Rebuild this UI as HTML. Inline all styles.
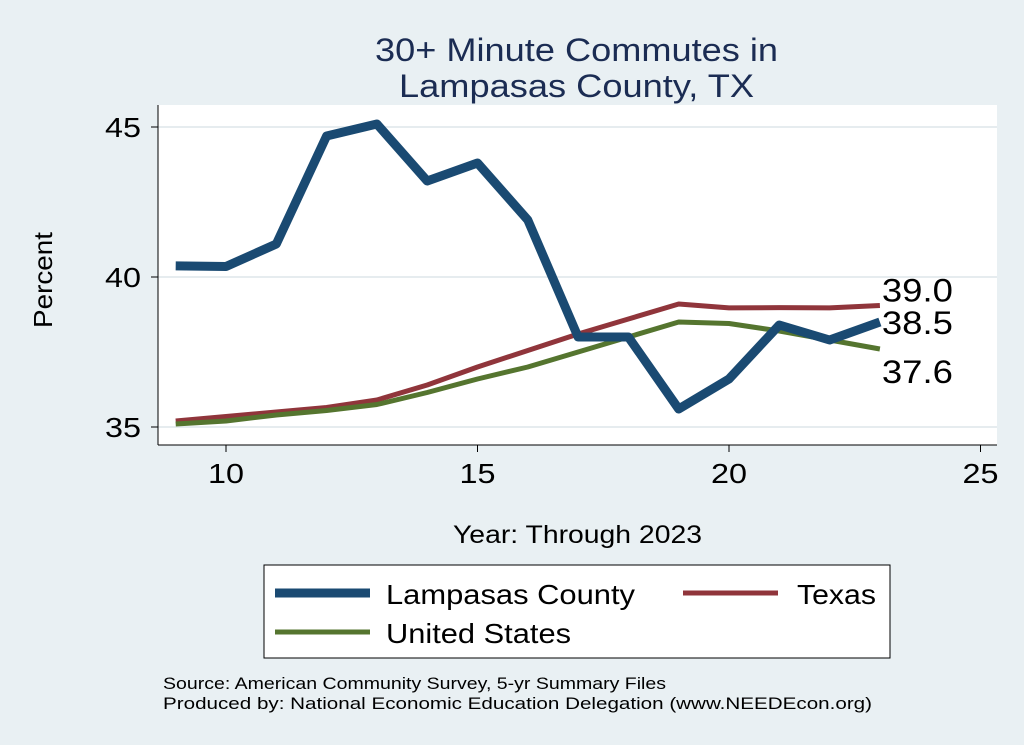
<!DOCTYPE html>
<html><head><meta charset="utf-8"><style>
body{margin:0;background:#e9f0f3;font-family:"Liberation Sans",Arial,sans-serif}
svg{display:block}
</style></head><body>
<svg width="1024" height="745" viewBox="0 0 1024 745">
<rect x="0" y="0" width="1024" height="745" fill="#e9f0f3"/>
<text x="375" y="61" font-size="32" fill="#1b2c53" textLength="403" lengthAdjust="spacingAndGlyphs">30+ Minute Commutes in</text>
<text x="399" y="97" font-size="32" fill="#1b2c53" textLength="355" lengthAdjust="spacingAndGlyphs">Lampasas County, TX</text>
<rect x="158" y="105" width="839" height="340" fill="#fff"/>
<g id="grid"></g>
<line x1="158" y1="105" x2="158" y2="445" stroke="#000" stroke-width="1"/>
<line x1="158" y1="445" x2="997" y2="445" stroke="#000" stroke-width="1"/>
<g id="ticks"></g>
<g id="series"></g>
<text x="52" y="328" font-size="26" textLength="96" lengthAdjust="spacingAndGlyphs" transform="rotate(-90 52 328)">Percent</text>
<text x="453" y="543" font-size="25" textLength="249" lengthAdjust="spacingAndGlyphs">Year: Through 2023</text>
<g>
<rect x="264" y="565" width="626" height="93" fill="#fff" stroke="#000" stroke-width="1"/>
<line x1="275" y1="593" x2="370" y2="593" stroke="#1a4a72" stroke-width="9"/>
<text x="386" y="604" font-size="28" textLength="249" lengthAdjust="spacingAndGlyphs">Lampasas County</text>
<line x1="683" y1="593" x2="778" y2="593" stroke="#90353b" stroke-width="5"/>
<text x="797" y="604" font-size="28" textLength="79" lengthAdjust="spacingAndGlyphs">Texas</text>
<line x1="275" y1="632" x2="370" y2="632" stroke="#55752f" stroke-width="5"/>
<text x="386" y="643" font-size="28" textLength="185" lengthAdjust="spacingAndGlyphs">United States</text>
</g>
<text x="163" y="689" font-size="17" textLength="503" lengthAdjust="spacingAndGlyphs">Source: American Community Survey, 5-yr Summary Files</text>
<text x="163" y="709" font-size="17" textLength="709" lengthAdjust="spacingAndGlyphs">Produced by: National Economic Education Delegation (www.NEEDEcon.org)</text>
</svg>
<script>
const years=[9,10,11,12,13,14,15,16,17,18,19,20,21,22,23];
const lampasas=[40.37,40.35,41.1,44.7,45.1,43.2,43.8,41.9,38.0,38.0,35.6,36.6,38.4,37.9,38.5];
const texas=[35.2,35.35,35.5,35.65,35.9,36.4,37.0,37.55,38.1,38.6,39.1,38.97,38.98,38.97,39.05];
const us=[35.1,35.2,35.4,35.55,35.75,36.15,36.6,37.0,37.5,38.0,38.5,38.45,38.2,37.9,37.6];
const xTicks=[10,15,20,25];
const yTicks=[35,40,45];
const NS="http://www.w3.org/2000/svg";
const X=v=>226+(v-10)*50.3;
const Y=v=>427-(v-35)*30;
function mk(t,a,p){const e=document.createElementNS(NS,t);for(const k in a)e.setAttribute(k,a[k]);p.appendChild(e);return e;}
const grid=document.getElementById('grid'),ticks=document.getElementById('ticks'),ser=document.getElementById('series');
yTicks.forEach(v=>{
 const g=mk('line',{x1:158,x2:997,y1:Y(v),y2:Y(v),stroke:'#e6ecef','stroke-width':2},grid);
 
 
 const t=mk('line',{x1:151,x2:158,y1:Y(v),y2:Y(v),stroke:'#000'},ticks);
 
 
 const l=mk('text',{x:141,y:Y(v)+10,'font-size':28,'text-anchor':'end',textLength:36,lengthAdjust:'spacingAndGlyphs'},ticks);l.textContent=v;
 
 
});
xTicks.forEach(v=>{
 const t=mk('line',{x1:X(v),x2:X(v),y1:445,y2:452,stroke:'#000'},ticks);
 
 
 const l=mk('text',{x:X(v),y:483,'font-size':28,'text-anchor':'middle',textLength:36,lengthAdjust:'spacingAndGlyphs'},ticks);l.textContent=v;
 
 
});
function line(vals,color,w,name){
 const p=mk('polyline',{points:years.map((y,i)=>X(y)+','+Y(vals[i])).join(' '),fill:'none',stroke:color,'stroke-width':w,'stroke-linejoin':'round'},ser);
 
 
}
line(texas,'#90353b',5,'line-texas');
line(us,'#55752f',5,'line-us');
line(lampasas,'#1a4a72',9,'line-lampasas');
const last=years.length-1;
[[texas,'39.0',-4,'label-texas'],[lampasas,'38.5',12,'label-lampasas'],[us,'37.6',34,'label-us']].forEach(([v,txt,dy,n])=>{
 const t=mk('text',{x:X(years[last])+2,y:Y(v[last])+dy,'font-size':32,textLength:71,lengthAdjust:'spacingAndGlyphs'},ser);t.textContent=txt;
 
 
});
</script>
</body></html>
